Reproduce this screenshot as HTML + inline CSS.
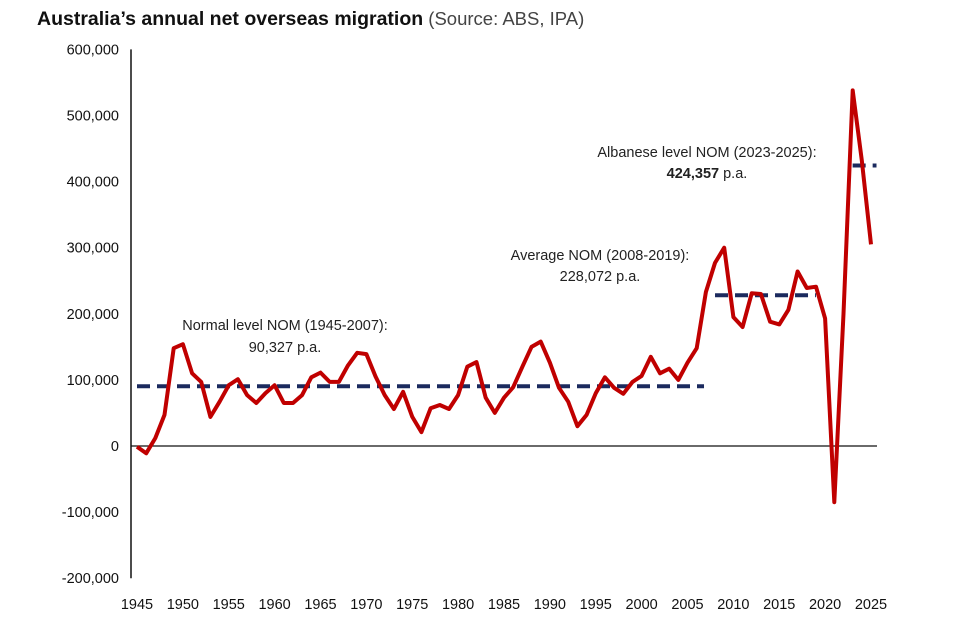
<!DOCTYPE html>
<html><head><meta charset="utf-8"><style>
body{margin:0;background:#fff;width:957px;height:636px;overflow:hidden}
svg text{font-family:"Liberation Sans",sans-serif}
</style></head><body>
<svg id="chart" width="957" height="636" viewBox="0 0 957 636">
<text x="37" y="25" font-size="19.5" fill="#111"><tspan font-weight="bold">Australia’s annual net overseas migration</tspan><tspan fill="#444" font-size="18.5"> (Source: ABS, IPA)</tspan></text>
<g id="yaxis"></g>
<g id="xaxis"></g>
<g id="avgs"></g>
<g id="series"></g>
<g font-size="14.5" fill="#222" text-anchor="middle">
<text x="285" y="330">Normal level NOM (1945-2007):</text>
<text x="285" y="352">90,327 p.a.</text>
<text x="600" y="260">Average NOM (2008-2019):</text>
<text x="600" y="281">228,072 p.a.</text>
<text x="707" y="157">Albanese level NOM (2023-2025):</text>
<text x="707" y="178"><tspan font-weight="bold">424,357</tspan> p.a.</text>
</g>
</svg>
<script>
const years=[];for(let y=1945;y<=2025;y++)years.push(y);
const values=[-1000,-11000,12000,47000,148000,154000,110000,97000,44000,67000,92000,101000,77000,65000,80000,92000,65000,65000,77000,104000,111000,97000,97000,122000,141000,139000,105000,77000,56000,82000,44000,21000,57000,62000,56000,77000,120000,127000,73000,50000,73000,89000,120000,150000,158000,126000,88000,67000,30000,47000,80000,104000,88000,79000,97000,106000,135000,110000,117000,100000,126000,148000,233000,277000,300000,195000,180000,231000,230000,188000,184000,206000,264000,239000,241000,193000,-85000,200000,538000,432000,305000];
const yTicks=[-200000,-100000,0,100000,200000,300000,400000,500000,600000];
const xTicks=[1945,1950,1955,1960,1965,1970,1975,1980,1985,1990,1995,2000,2005,2010,2015,2020,2025];
const avgStart=[1945,2008,2023];
const avgEnd=[2006.8,2019,2025.6];
const avgVals=[90327,228072,424357];
const NS="http://www.w3.org/2000/svg";
const xs=y=>137+(y-1945)*9.175;
const ys=v=>446-v*0.000661;
function mk(p,tag,a){const e=document.createElementNS(NS,tag);for(const k in a)e.setAttribute(k,a[k]);p.appendChild(e);return e;}
const ya=document.getElementById('yaxis'),xa=document.getElementById('xaxis');
const ax=mk(ya,'line',{x1:131,x2:131,y1:ys(600000),y2:ys(-200000),stroke:'#111','stroke-width':1.5});


yTicks.forEach(t=>{const e=mk(ya,'text',{x:119,y:ys(t)+5,'text-anchor':'end','font-size':14.5,fill:'#111'});e.textContent=t.toLocaleString('en-US');

});
const z=mk(xa,'line',{x1:131,x2:877,y1:ys(0),y2:ys(0),stroke:'#111','stroke-width':1.2});


xTicks.forEach(t=>{const e=mk(xa,'text',{x:xs(t),y:609,'text-anchor':'middle','font-size':14.5,fill:'#111'});e.textContent=t;

});
const ag=document.getElementById('avgs');
avgVals.forEach((v,i)=>{const l=mk(ag,'line',{x1:xs(avgStart[i]),x2:xs(avgEnd[i]),y1:ys(v),y2:ys(v),stroke:'#1b2a5e','stroke-width':4,'stroke-dasharray':'13 7'});

});
const pts=years.map((y,i)=>xs(y).toFixed(1)+','+ys(values[i]).toFixed(1)).join(' ');
const pl=mk(document.getElementById('series'),'polyline',{points:pts,fill:'none',stroke:'#c00000','stroke-width':4,'stroke-linejoin':'round'});


</script>
</body></html>
